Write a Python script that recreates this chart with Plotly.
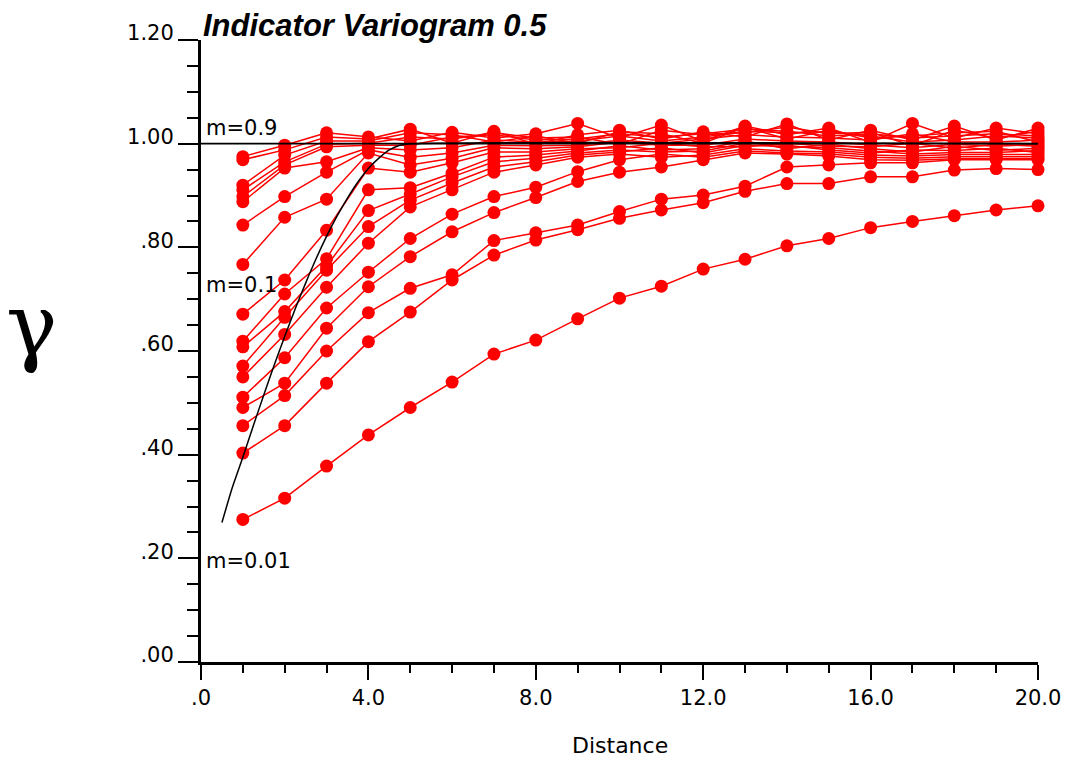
import plotly.graph_objects as go

# ---------------- data ----------------
lags = [1, 2, 3, 4, 5, 6, 7, 8, 9, 10, 11, 12, 13, 14, 15, 16, 17, 18, 19, 20]

series_01 = [0.975, 0.997, 1.021, 1.013, 1.005, 1.022, 1.011, 1.019, 1.039, 1.011, 1.036, 1.005, 1.034, 1.017, 1.030, 1.003, 1.039, 1.011, 1.030, 1.019]
series_02 = [0.969, 0.988, 1.013, 1.009, 1.028, 1.001, 1.024, 0.999, 1.017, 1.026, 1.009, 1.023, 1.013, 1.038, 1.007, 1.026, 1.007, 1.034, 1.007, 1.030]
series_03 = [0.920, 0.978, 1.005, 1.005, 1.021, 1.017, 1.003, 1.015, 1.001, 1.023, 1.019, 1.001, 1.032, 1.009, 1.026, 1.011, 1.015, 1.021, 1.024, 1.003]
series_04 = [0.911, 0.965, 0.999, 1.001, 1.013, 1.009, 1.021, 1.011, 1.013, 0.999, 1.026, 1.017, 1.021, 1.032, 1.019, 1.022, 0.996, 1.026, 1.011, 1.024]
series_05 = [0.898, 0.959, 0.994, 0.997, 0.997, 1.013, 1.017, 1.007, 1.009, 1.019, 1.013, 1.019, 1.028, 1.024, 1.015, 1.019, 1.011, 1.015, 1.019, 1.015]
series_06 = [0.888, 0.953, 0.965, 0.992, 0.988, 0.992, 1.007, 1.003, 1.005, 1.015, 1.005, 1.013, 1.024, 1.021, 1.023, 1.015, 1.003, 1.007, 1.015, 1.011]
series_07 = [0.843, 0.898, 0.945, 0.988, 0.974, 0.982, 0.997, 0.996, 0.997, 1.007, 1.001, 1.009, 1.017, 1.013, 1.011, 1.007, 1.019, 1.003, 1.003, 1.007]
series_08 = [0.767, 0.858, 0.893, 0.982, 0.959, 0.972, 0.992, 0.990, 0.994, 1.003, 0.997, 0.997, 1.009, 1.005, 1.003, 0.997, 0.992, 0.999, 0.995, 0.999]
series_09 = [0.671, 0.737, 0.833, 0.953, 0.945, 0.963, 0.984, 0.984, 0.990, 0.992, 1.001, 0.994, 0.994, 1.001, 0.995, 0.994, 1.001, 0.991, 0.999, 0.995]
series_10 = [0.619, 0.710, 0.778, 0.911, 0.915, 0.943, 0.974, 0.978, 0.986, 0.996, 0.988, 0.990, 1.005, 0.990, 0.999, 0.990, 0.984, 0.995, 0.987, 0.991]
series_11 = [0.608, 0.676, 0.764, 0.871, 0.903, 0.936, 0.965, 0.972, 0.982, 0.988, 0.984, 0.986, 1.001, 0.997, 0.988, 0.982, 0.988, 0.987, 0.991, 0.983]
series_12 = [0.571, 0.665, 0.756, 0.840, 0.891, 0.924, 0.955, 0.965, 0.978, 0.984, 0.992, 0.982, 0.997, 0.994, 0.992, 0.986, 0.980, 0.983, 0.983, 0.987]
series_13 = [0.550, 0.632, 0.723, 0.808, 0.878, 0.911, 0.945, 0.959, 0.974, 0.980, 0.974, 0.978, 0.990, 0.986, 0.984, 0.978, 0.976, 0.979, 0.979, 0.979]
series_14 = [0.511, 0.587, 0.683, 0.752, 0.817, 0.864, 0.898, 0.916, 0.946, 0.969, 0.980, 0.974, 0.986, 0.982, 0.980, 0.974, 0.972, 0.975, 0.975, 0.975]
series_15 = [0.491, 0.538, 0.644, 0.724, 0.782, 0.830, 0.867, 0.896, 0.927, 0.945, 0.955, 0.969, 0.982, 0.980, 0.976, 0.969, 0.968, 0.971, 0.971, 0.971]
series_16 = [0.456, 0.514, 0.600, 0.674, 0.721, 0.747, 0.813, 0.828, 0.843, 0.869, 0.893, 0.901, 0.918, 0.955, 0.959, 0.963, 0.963, 0.969, 0.969, 0.969]
series_17 = [0.403, 0.456, 0.538, 0.618, 0.675, 0.737, 0.785, 0.814, 0.834, 0.856, 0.872, 0.886, 0.908, 0.923, 0.923, 0.936, 0.936, 0.949, 0.952, 0.950]
series_18 = [0.275, 0.316, 0.378, 0.438, 0.491, 0.540, 0.594, 0.621, 0.662, 0.702, 0.725, 0.758, 0.777, 0.803, 0.817, 0.838, 0.850, 0.861, 0.872, 0.880]

all_series = [series_01, series_02, series_03, series_04, series_05, series_06,
              series_07, series_08, series_09, series_10, series_11, series_12,
              series_13, series_14, series_15, series_16, series_17, series_18]

# model curve
model_x = [0.5, 0.75, 1.0, 1.25, 1.5, 1.75, 2.0, 2.25, 2.5, 2.75, 3.0, 3.25, 3.5, 3.75, 4.0, 4.25, 4.5, 4.75, 5.0, 20.0]
model_y = [0.269, 0.337, 0.395, 0.456, 0.515, 0.573, 0.628, 0.681, 0.731, 0.778, 0.821, 0.860, 0.895, 0.926, 0.952, 0.972, 0.988, 0.997, 1.000, 1.000]

sill_x = [0.0, 20.0]
sill_y = [1.0, 1.0]

x_tickvals = [0, 4, 8, 12, 16, 20]
x_ticktext = [".0", "4.0", "8.0", "12.0", "16.0", "20.0"]
y_tickvals = [0.0, 0.2, 0.4, 0.6, 0.8, 1.0, 1.2]
y_ticktext = [".00", ".20", ".40", ".60", ".80", "1.00", "1.20"]

curve_labels = ["m=0.9", "m=0.1", "m=0.01"]
curve_label_y = [1.030, 0.727, 0.195]

title_text = "Indicator Variogram 0.5"
x_title = "Distance"
y_title = "γ"

# ---------------- figure ----------------
fig = go.Figure()
for s in all_series:
    fig.add_trace(go.Scatter(
        x=lags, y=s, mode="lines+markers",
        line=dict(color="#ff0000", width=1.5),
        marker=dict(color="#ff0000", size=13),
        cliponaxis=False, showlegend=False, hoverinfo="skip"))

fig.add_trace(go.Scatter(x=sill_x, y=sill_y, mode="lines",
                         line=dict(color="black", width=1.6),
                         cliponaxis=False, showlegend=False))
fig.add_trace(go.Scatter(x=model_x, y=model_y, mode="lines",
                         line=dict(color="black", width=1.5, shape="spline", smoothing=0.6),
                         cliponaxis=False, showlegend=False))

tick_font = dict(family="DejaVu Sans", size=21, color="black")

# page body has an 8px margin, so the figure is sized/placed to compensate
W, H = 1062, 752
ML, MT, PW, PH = 193, 32, 837, 622
fig.update_layout(
    width=W, height=H,
    margin=dict(l=ML, r=W - ML - PW, t=MT, b=H - MT - PH, pad=0, autoexpand=False),
    paper_bgcolor="white", plot_bgcolor="white",
    showlegend=False,
    xaxis=dict(range=[0, 20], showgrid=False, zeroline=False, automargin=False,
               showline=True, linecolor="black", linewidth=3,
               ticks="outside", ticklen=15, tickwidth=2, tickcolor="black",
               tickvals=x_tickvals, ticktext=x_ticktext, tickfont=tick_font,
               minor=dict(ticks="outside", ticklen=8, tickwidth=2, tickcolor="black",
                          dtick=1, tick0=0, showgrid=False)),
    yaxis=dict(range=[0, 1.2], showgrid=False, zeroline=False, automargin=False,
               showline=True, linecolor="black", linewidth=3,
               ticks="outside", ticklen=20, tickwidth=2, tickcolor="black",
               tickvals=y_tickvals, ticktext=y_ticktext, tickfont=tick_font,
               ticklabelshift=-7,
               minor=dict(ticks="outside", ticklen=11, tickwidth=2, tickcolor="black",
                          dtick=0.05, tick0=0, showgrid=False)),
)

for txt, yv in zip(curve_labels, curve_label_y):
    fig.add_annotation(x=0.06, y=yv, xref="x", yref="y", text=txt, showarrow=False,
                       xanchor="left", yanchor="middle",
                       font=dict(family="DejaVu Sans", size=21, color="black"))

fig.add_annotation(x=0.0, y=1.0 + MT / PH, xref="paper", yref="paper", text=title_text,
                   showarrow=False, xanchor="left", yanchor="top", yshift=2,
                   font=dict(family="Liberation Sans", size=31, color="black",
                             weight="bold", style="italic"))

fig.add_annotation(x=0.5006, y=-0.135, xref="paper", yref="paper", text=x_title,
                   showarrow=False, xanchor="center", yanchor="middle",
                   font=dict(family="DejaVu Sans", size=22, color="black"))

fig.add_annotation(x=(-4 - ML) / PW, y=0.542, xref="paper", yref="paper", text=y_title,
                   showarrow=False, xanchor="left", yanchor="middle",
                   font=dict(family="DejaVu Serif", size=86, color="black"))

fig.write_html("out.html")
